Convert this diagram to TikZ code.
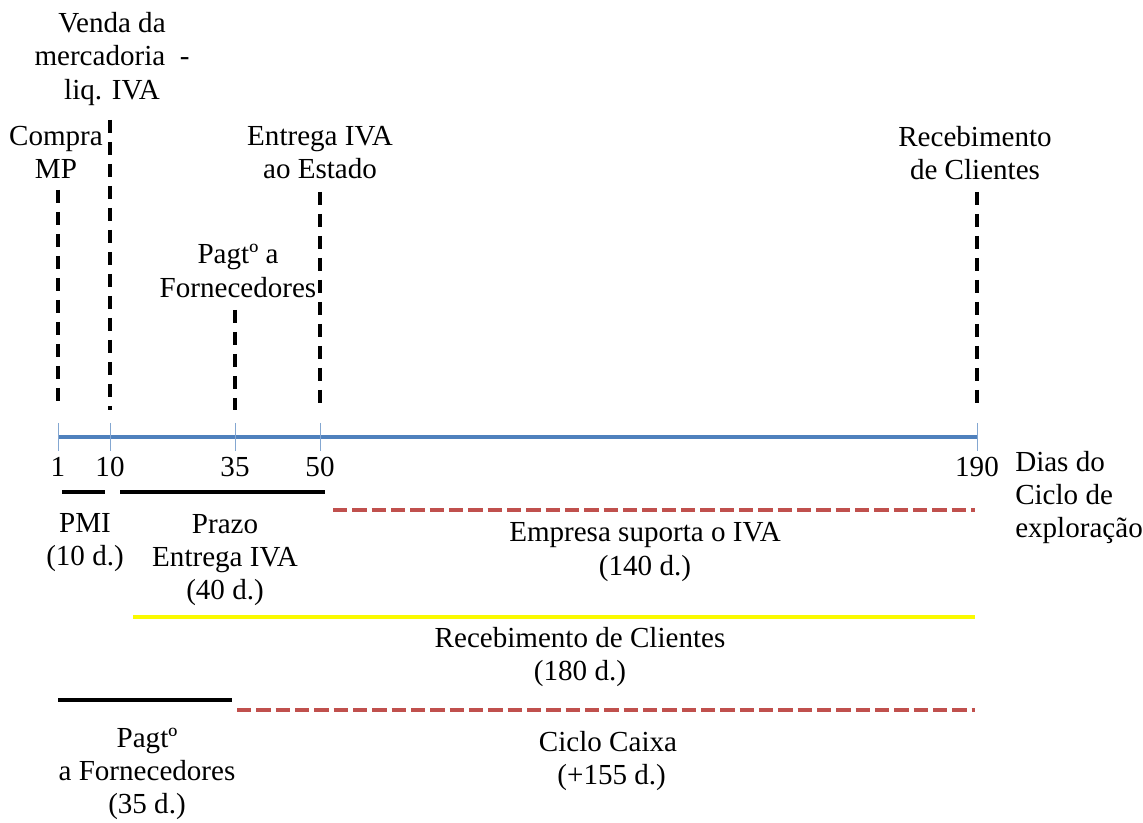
\documentclass[tikz,border=0pt]{standalone}
\usepackage{fontspec}
\setmainfont{Liberation Serif}
\definecolor{axisblue}{RGB}{79,129,189}
\definecolor{ivared}{RGB}{192,80,77}
\definecolor{recyellow}{RGB}{250,250,0}
\tikzset{
  lbl/.style={align=center, inner sep=0pt, font=\fontsize{21.8}{24.8}\selectfont},
  marker/.style={line width=3pt, dash pattern=on 9.5pt off 7pt},
  tick/.style={axisblue!70, line width=0.7pt},
  period/.style={line width=3.5pt},
  support/.style={ivared, line width=3.5pt, dash pattern=on 10.7pt off 3.8pt},
}
\begin{document}
\begin{tikzpicture}[x=0.75pt, y=-0.75pt]
\useasboundingbox (0,0) rectangle (1143,823);
% Parameters
\def\axisY{437}
\def\labelY{467}

% Axis
\coordinate (start) at (58,\axisY);
\coordinate (end) at (977,\axisY);
\draw[axisblue, line width=3pt] (start) -- (end);
\foreach \d/\x in {1/58,10/110,35/235,50/320,190/977}{
  \draw[tick] (\x,423) -- (\x,451);
  \node[lbl] (n\d) at (\x,\labelY) {\d};
}
\node[lbl, align=left, anchor=north west] (dias) at (1015,451) {Dias do\\Ciclo de\\exploração};

% Events
\foreach \d/\x/\ytop in {1/58/190,10/110/120,35/235/310,50/320/192,190/977/192}{
  \coordinate (up\d) at (\x,\ytop);
  \coordinate (lo\d) at (\x,410);
  \draw[marker] (up\d) -- (lo\d);
}
\node[lbl] (compra) at (56,152) {Compra\\MP};
\node[lbl] (venda) at (112,59) {Venda da\\mercadoria \ -\\liq. IVA};
\node[lbl] (pagforn) at (238,271) {Pagtº a\\Fornecedores};
\node[lbl] (entrega) at (320,153) {Entrega IVA\\ao Estado};
\node[lbl] (receb) at (975,153) {Recebimento\\de Clientes};

% Periods
\coordinate (pmiA) at (62,492);   \coordinate (pmiB) at (105,492);
\coordinate (przA) at (120,492);  \coordinate (przB) at (325,492);
\coordinate (empA) at (333,510);  \coordinate (empB) at (975,510);
\coordinate (recA) at (133,617);  \coordinate (recB) at (975,617);
\coordinate (forA) at (58,700);   \coordinate (forB) at (232,700);
\coordinate (caxA) at (237,710);  \coordinate (caxB) at (975,710);
\draw[period] (pmiA) -- (pmiB);
\draw[period] (przA) -- (przB);
\draw[support] (empA) -- (empB);
\draw[recyellow, line width=3.5pt] (recA) -- (recB);
\draw[period] (forA) -- (forB);
\draw[support] (caxA) -- (caxB);

\node[lbl] (pmi) at (85,543) {PMI\\(10 d.)};
\node[lbl] (prazo) at (225,560) {Prazo\\Entrega IVA\\(40 d.)};
\node[lbl] (empresa) at (645,552) {Empresa suporta o IVA\\(140 d.)};
\node[lbl] (recebimento) at (580,657) {Recebimento de Clientes\\(180 d.)};
\node[lbl] (fornecedores) at (147,774) {Pagtº\\a Fornecedores\\(35 d.)};
\node[lbl] (caixa) at (608,761) {Ciclo Caixa\\ \ (+155 d.)};
\end{tikzpicture}
\end{document}
